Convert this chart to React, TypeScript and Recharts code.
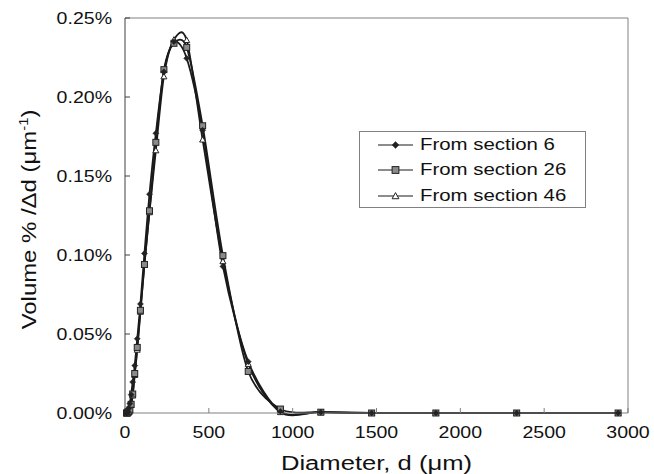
import React from 'react';
import {
    LineChart,
    Line,
    XAxis,
    YAxis,
    ReferenceLine,
    Legend
} from 'recharts';

// particle size classes (µm) and volume % per µm for the three sections
const diameters = [9.1, 11.5, 14.5, 18, 23, 29, 36.5, 46, 58, 73, 92, 116, 146, 184, 232, 292, 368, 463, 584, 735, 927, 1168, 1471, 1854, 2336, 2941];
const section6 = [0, 0, 0.0005, 0.001, 0.003, 0.006, 0.0116, 0.0196, 0.030, 0.047, 0.069, 0.101, 0.1385, 0.177, 0.216, 0.235, 0.2245, 0.179, 0.0928, 0.0325, 0.001, 0.0005, 0, 0, 0, 0];
const section26 = [0, 0, 0, 0.0005, 0.001, 0.002, 0.0055, 0.012, 0.025, 0.0415, 0.065, 0.094, 0.128, 0.1713, 0.2173, 0.234, 0.2314, 0.1818, 0.0996, 0.0263, 0.0025, 0.0005, 0, 0, 0, 0];
const section46 = [0, 0, 0, 0, 0.0005, 0.0015, 0.005, 0.011, 0.024, 0.040, 0.064, 0.094, 0.127, 0.1662, 0.213, 0.2363, 0.236, 0.173, 0.096, 0.031, 0.0005, 0.0005, 0, 0, 0, 0];

const xTicks = [0, 500, 1000, 1500, 2000, 2500, 3000];
const yTicks = [0, 0.05, 0.1, 0.15, 0.2, 0.25];
const seriesNames = ['From section 6', 'From section 26', 'From section 46'];

const FONT = '"Liberation Sans", Arial, sans-serif';
const LINE = '#1a1a1a';
const TEXT = '#111';

const data = diameters.map((d, i) => ({
    d,
    s6: section6[i],
    s26: section26[i],
    s46: section46[i]
}));

// Excel-like smoothed line (Catmull-Rom style through the points)
const smoothCurve = (context: any) => {
    let pts: number[][] = [];
    const k = 1 / 7;
    return {
        areaStart() {},
        areaEnd() {},
        lineStart() { pts = []; },
        lineEnd() {
            if (!pts.length) return;
            context.moveTo(pts[0][0], pts[0][1]);
            for (let i = 0; i < pts.length - 1; i++) {
                const p0 = pts[Math.max(i - 1, 0)];
                const p1 = pts[i];
                const p2 = pts[i + 1];
                const p3 = pts[Math.min(i + 2, pts.length - 1)];
                context.bezierCurveTo(
                    p1[0] + (p2[0] - p0[0]) * k, p1[1] + (p2[1] - p0[1]) * k,
                    p2[0] - (p3[0] - p1[0]) * k, p2[1] - (p3[1] - p1[1]) * k,
                    p2[0], p2[1]
                );
            }
        },
        point(x: number, y: number) { pts.push([+x, +y]); }
    };
};

const Diamond = ({ cx, cy, r = 4.5 }: any) => {
    if (cx == null || cy == null) return null;
    return <path d={`M${cx},${cy - r}L${cx + r},${cy}L${cx},${cy + r}L${cx - r},${cy}Z`} fill="#222" stroke="#222" strokeWidth={0.5} />;
};

const Square = ({ cx, cy, r = 3.8 }: any) => {
    if (cx == null || cy == null) return null;
    return <rect x={cx - r} y={cy - r} width={2 * r} height={2 * r} fill="#8a8a8a" stroke="#222" strokeWidth={1} />;
};

const Triangle = ({ cx, cy, r = 4.5 }: any) => {
    if (cx == null || cy == null) return null;
    return <path d={`M${cx},${cy - r}L${cx + r},${cy + r * 0.8}L${cx - r},${cy + r * 0.8}Z`} fill="#fff" stroke="#222" strokeWidth={1} />;
};

const markers = [Diamond, Square, Triangle];

const XTick = ({ x, y, payload }: any) => (
    <text transform={`translate(${x},${y}) scale(1.15,1)`} textAnchor="middle" dy="0.71em"
        fontFamily={FONT} fontSize={17} fill={TEXT}>
        {payload.value}
    </text>
);

const YTick = ({ x, y, payload }: any) => (
    <text transform={`translate(${x},${y}) scale(1.15,1)`} textAnchor="end" dy="0.355em"
        fontFamily={FONT} fontSize={17} fill={TEXT}>
        {`${payload.value.toFixed(2)}%`}
    </text>
);

const LegendBox = () => (
    <div style={{
        width: 225,
        height: 75,
        border: '1px solid #808080',
        background: '#fff',
        fontFamily: FONT,
        fontSize: 17,
        color: TEXT,
        position: 'relative'
    }}>
        {seriesNames.map((name, i) => {
            const Marker = markers[i];
            return (
                <div key={name} style={{ position: 'absolute', left: 0, top: 0.5 + i * 25.8, height: 24, display: 'flex', alignItems: 'center' }}>
                    <svg width={60} height={24} style={{ display: 'block' }}>
                        <line x1={18} x2={53} y1={12} y2={12} stroke={LINE} strokeWidth={1.2} />
                        <Marker cx={35.5} cy={12} r={3.4} />
                    </svg>
                    <span style={{ whiteSpace: 'nowrap', display: 'inline-block', transform: 'scaleX(1.2)', transformOrigin: 'left center' }}>{name}</span>
                </div>
            );
        })}
    </div>
);

const XTitle = ({ viewBox }: any) => {
    const cx = viewBox ? viewBox.x + viewBox.width / 2 : 377;
    return (
        <text transform={`translate(${cx},470) scale(1.22,1)`} textAnchor="middle"
            fontFamily={FONT} fontSize={21} fill={TEXT}>
            Diameter, d (μm)
        </text>
    );
};

const YTitle = ({ viewBox }: any) => {
    const cy = viewBox ? viewBox.y + viewBox.height / 2 : 215;
    return (
        <text transform={`translate(36, ${cy + 4}) rotate(-90) scale(1.14,1)`} textAnchor="middle"
            fontFamily={FONT} fontSize={21} fill={TEXT}>
            Volume % /Δd (μm
            <tspan dy={-8} fontSize={13}>-1</tspan>
            <tspan dy={8}>)</tspan>
        </text>
    );
};

export default function App() {
    return (
        <div style={{ width: 654, height: 474, background: '#fff' }}>
            <style>{`body{margin:0}`}</style>
            <LineChart width={654} height={474} data={data} margin={{ top: 18, right: 26, bottom: 0, left: 0 }}>
                <XAxis
                    dataKey="d"
                    type="number"
                    domain={[0, 3000]}
                    ticks={xTicks}
                    height={61}
                    tickSize={-5}
                    tickMargin={18}
                    stroke="#808080"
                    tick={<XTick />}
                    label={<XTitle />}
                />
                <YAxis
                    type="number"
                    domain={[0, 0.25]}
                    ticks={yTicks}
                    width={125}
                    tickSize={-5}
                    tickMargin={18}
                    stroke="#404040"
                    tick={<YTick />}
                    label={<YTitle />}
                />
                <ReferenceLine y={0.25} stroke="#808080" />
                <ReferenceLine x={3000} stroke="#808080" />
                <Legend
                    layout="horizontal"
                    verticalAlign="middle"
                    align="center"
                    wrapperStyle={{ left: 359, top: 131, width: 227, height: 77 }}
                    content={() => <LegendBox />}
                />
                <Line dataKey="s46" name={seriesNames[2]} type={smoothCurve as any} stroke={LINE} strokeWidth={1.8} dot={<Triangle />} activeDot={false} isAnimationActive={false} />
                <Line dataKey="s26" name={seriesNames[1]} type={smoothCurve as any} stroke={LINE} strokeWidth={1.8} dot={<Square />} activeDot={false} isAnimationActive={false} />
                <Line dataKey="s6" name={seriesNames[0]} type={smoothCurve as any} stroke={LINE} strokeWidth={1.8} dot={<Diamond />} activeDot={false} isAnimationActive={false} />
            </LineChart>
        </div>
    );
}
